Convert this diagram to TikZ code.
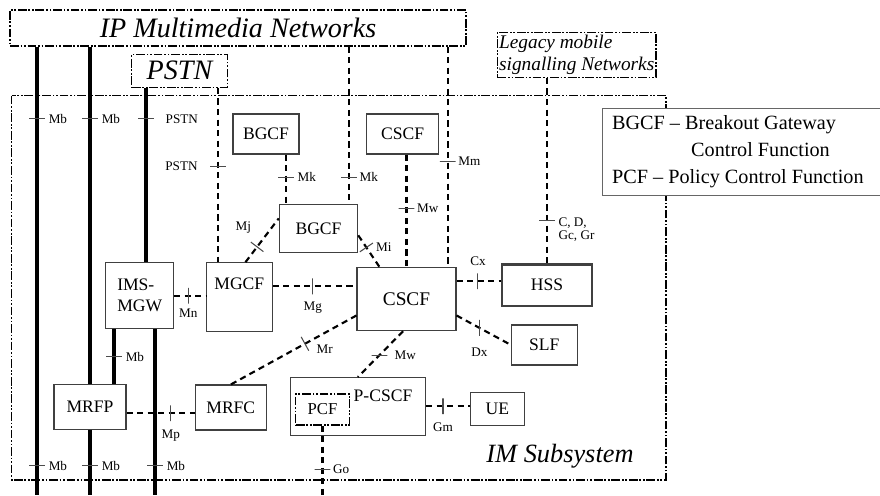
\documentclass[tikz,border=0pt]{standalone}
\usepackage{fontspec}
\setmainfont{Liberation Serif}
\begin{document}
\begin{tikzpicture}[x=0.02cm, y=-0.02cm,
    box/.style={draw=black!75, fill=white, line width=0.6pt, inner sep=0pt, font=\fontsize{10}{12}\selectfont},
    net/.style={draw=black, fill=white, line width=0.7pt, dash pattern=on 5pt off 1pt on 1pt off 1pt on 1pt off 1pt, inner sep=0pt, font=\fontsize{16}{18}\selectfont\itshape},
    link/.style={line width=1.2pt, dash pattern=on 3.5pt off 2.5pt},
    trunk/.style={line width=2.4pt},
    bar/.style={draw=black!70, solid, line width=0.6pt, minimum width=0pt, minimum height=9pt, inner sep=0pt},
    ifl/.style={font=\fontsize{7.5}{7}\selectfont, inner sep=1pt, align=left}]
  \useasboundingbox (0,0) rectangle (880,495);
  \coordinate (floor) at (0,495);

  % IM subsystem frame
  \draw[line width=0.7pt, dash pattern=on 5pt off 1pt on 1pt off 1pt on 1pt off 1pt] (11.7,95.7) rectangle (666,480);
  \node[font=\fontsize{15}{18}\selectfont\itshape] (imsub) at (560,456) {IM Subsystem};

  % outside networks
  \node[net, minimum width=9.12cm, minimum height=0.72cm] (ipnet) at (238,28) {IP Multimedia Networks};
  \node[net, minimum width=1.91cm, minimum height=0.66cm] (pstn) at (179.5,70.8) {PSTN};
  \node[net, minimum width=3.17cm, minimum height=0.9cm, align=left, font=\fontsize{11}{12.5}\selectfont\itshape] (legacy) at (576.7,54.8) {Legacy mobile\\signalling Networks};

  % functions
  \node[box, minimum width=1.32cm, minimum height=0.8cm] (bgcfA) at (266,134) {BGCF};
  \node[box, minimum width=1.44cm, minimum height=0.8cm] (cscfA) at (402.7,134) {CSCF};
  \node[box, minimum width=1.57cm, minimum height=0.96cm] (bgcf) at (318.5,228.3) {BGCF};
  \node[box, minimum width=1.98cm, minimum height=1.26cm, font=\fontsize{11}{13}\selectfont] (cscf) at (406.5,299.2) {CSCF};
  \node[box, minimum width=1.31cm, minimum height=1.38cm, label={[anchor=center, yshift=-12.5pt, font=\fontsize{10}{12}\selectfont]north:MGCF}] (mgcf) at (239.3,297.2) {};
  \node[box, minimum width=1.35cm, minimum height=1.33cm, align=left] (imsmgw) at (139.7,295.7) {IMS-\\MGW};
  \node[box, minimum width=1.79cm, minimum height=0.83cm, line width=1.2pt] (hss) at (547,285.2) {HSS};
  \node[box, minimum width=1.31cm, minimum height=0.8cm] (slf) at (544.3,345) {SLF};
  \node[box, minimum width=2.71cm, minimum height=1.15cm] (pcscf) at (357.8,406.3) {};
  \node[font=\fontsize{10}{12}\selectfont, inner sep=0pt] (pcscftxt) at (383,396) {P-CSCF};
  \node[net, minimum width=1.07cm, minimum height=0.62cm, font=\fontsize{9.5}{11}\selectfont] (pcf) at (322.5,409.5) {PCF};
  \node[box, minimum width=1.09cm, minimum height=0.65cm] (ue) at (497.3,408.8) {UE};
  \node[box, minimum width=1.43cm, minimum height=0.9cm] (mrfc) at (230.8,407.5) {MRFC};
  \node[box, minimum width=1.44cm, minimum height=0.9cm] (mrfp) at (90,406.8) {MRFP};

  % bearer trunks
  \draw[trunk] (ipnet.south -| 37,0) -- node[bar, sloped, pos=.161]{} node[ifl, pos=.161, right=4.5pt]{Mb}
    node[bar, sloped, pos=.935]{} node[ifl, pos=.935, right=4.5pt]{Mb} (floor -| 37,0);
  \draw[trunk] (ipnet.south -| mrfp.north) -- node[bar, sloped, pos=.214]{} node[ifl, pos=.214, right=4.5pt]{Mb} (mrfp.north);
  \draw[trunk] (mrfp.south) -- node[bar, sloped, pos=.554]{} node[ifl, pos=.554, right=4.5pt]{Mb} (mrfp.south |- floor);
  \draw[trunk] (pstn.south -| 146,0) -- node[bar, sloped, pos=.177]{} node[ifl, pos=.177, right=9pt]{PSTN} (imsmgw.north -| 146,0);
  \draw[trunk] (imsmgw.south -| 114,0) -- node[bar, sloped, pos=.5]{} node[ifl, pos=.5, right=4.5pt]{Mb} (mrfp.north -| 114,0);
  \draw[trunk] (imsmgw.south -| 155,0) -- node[bar, sloped, pos=.823]{} node[ifl, pos=.823, right=4.5pt]{Mb} (floor -| 155,0);

  % signalling links
  \draw[link] (ipnet.south -| 349,0) -- node[bar, sloped, pos=.83]{} node[ifl, pos=.83, right=4.5pt]{Mk} (bgcf.north -| 349,0);
  \draw[link] (ipnet.south -| 447.7,0) -- node[bar, sloped, pos=.52]{} node[ifl, pos=.52, right=4.5pt]{Mm} (cscf.north -| 447.7,0);
  \draw[link] (pstn.south -| 218,0) -- node[bar, sloped, pos=.45]{} node[ifl, pos=.45, left=10pt]{PSTN} (mgcf.north -| 218,0);
  \draw[link] (legacy.south -| hss.north) -- node[bar, sloped, pos=.77]{} node[ifl, pos=.77, right=5pt, yshift=-5pt]{C, D,\\Gc, Gr} (hss.north);
  \draw[link] (bgcfA.south -| 286,0) -- node[bar, sloped, pos=.46]{} node[ifl, pos=.46, right=5pt]{Mk} (bgcf.north -| 286,0);
  \draw[link] (cscfA.south -| cscf.north) -- node[bar, sloped, pos=.48]{} node[ifl, pos=.48, right=4.5pt]{Mw} (cscf.north);
  \draw[link] (mgcf.80) -- node[bar, sloped, pos=.35]{} node[ifl, pos=.78, left=10pt]{Mj} (bgcf.166);
  \draw[link] (bgcf.-10) -- node[bar, sloped, pos=.38]{} node[ifl, pos=.38, right=4pt]{Mi} (cscf.130);
  \draw[link] (imsmgw.east) -- node[bar, pos=.45]{} node[ifl, pos=.45, below=6pt]{Mn} (mgcf.west |- imsmgw.east);
  \draw[link] (mgcf.18) -- node[bar, pos=.48]{} node[ifl, pos=.48, below=7pt]{Mg} (cscf.west |- mgcf.18);
  \draw[link] (cscf.east |- hss.175) -- node[bar, pos=.48]{} node[ifl, pos=.48, above=7pt]{Cx} (hss.175);
  \draw[link] (cscf.-18) -- node[bar, pos=.42]{} node[ifl, pos=.42, below=10pt]{Dx} (slf.west);
  \draw[link] (cscf.198) -- node[bar, sloped, pos=.41]{} node[ifl, pos=.41, right=5pt, yshift=-3pt]{Mr} (mrfc.north);
  \draw[link] (cscf.264) -- node[bar, rotate=90, pos=.52]{} node[ifl, pos=.52, right=7pt]{Mw} (pcscf.north);
  \draw[link] (pcscf.east) -- node[bar, pos=.39]{} node[ifl, pos=.39, below=8pt]{Gm} (ue.west |- pcscf.east);
  \draw[link] (pcf.south) -- node[bar, sloped, pos=.63]{} node[ifl, pos=.63, right=4.5pt]{Go} (pcf.south |- floor);
  \draw[link] (mrfp.-10) -- node[bar, pos=.65]{} node[ifl, pos=.65, below=8pt]{Mp} (mrfc.west |- mrfp.-10);

  % legend
  \node[draw=black!60, fill=white, line width=0.6pt, anchor=north west, minimum height=1.75cm, text width=5.33cm, inner xsep=5.3pt, align=flush left, font=\fontsize{11.5}{15.3}\selectfont] (legend) at (602.3,107.7) {BGCF -- Breakout Gateway\\\hspace*{45pt}Control Function\\PCF -- Policy Control Function};
\end{tikzpicture}
\end{document}
